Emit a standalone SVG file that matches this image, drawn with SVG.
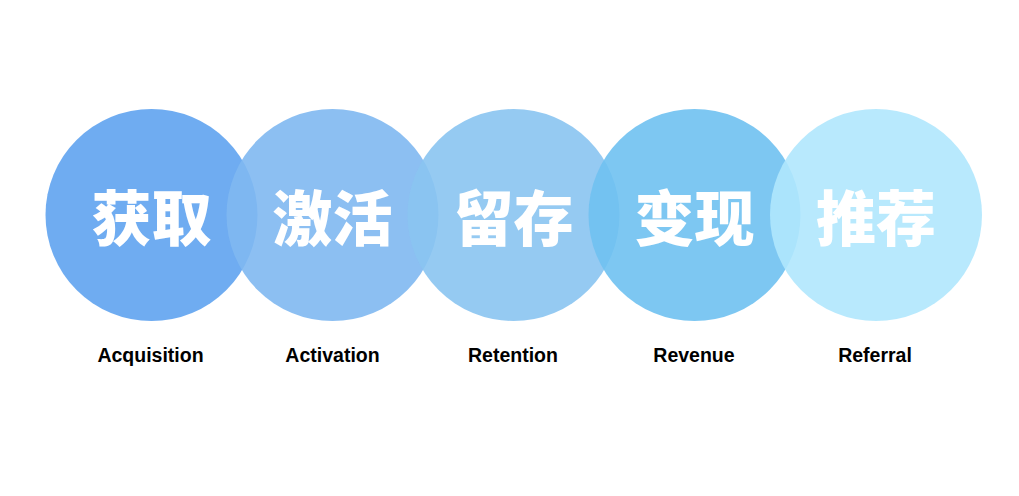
<svg xmlns="http://www.w3.org/2000/svg" width="1019" height="496" viewBox="0 0 1019 496">
<style>
.c{opacity:0.9}
.t{font-family:"Noto Sans CJK SC","Noto Sans",sans-serif;font-weight:900;font-size:60px;fill:#ffffff;text-anchor:middle}
.l{font-family:"Liberation Sans",Arial,sans-serif;font-weight:bold;font-size:19.5px;fill:#000000;text-anchor:middle}
</style>
<rect width="1019" height="496" fill="#ffffff"/>
<g id="node-acquisition">
<circle class="c" cx="151.5" cy="215" r="106" fill="#5fa3ef"/>
<text class="t" x="151.5" y="241">获取</text>
<text class="l" x="150.5" y="362">Acquisition</text>
</g>
<g id="node-activation">
<circle class="c" cx="332.5" cy="215" r="106" fill="#7fb8f1"/>
<text class="t" x="332.5" y="241">激活</text>
<text class="l" x="332.5" y="362">Activation</text>
</g>
<g id="node-retention">
<circle class="c" cx="513.5" cy="215" r="106" fill="#89c4f1"/>
<text class="t" x="513.5" y="241">留存</text>
<text class="l" x="513" y="362">Retention</text>
</g>
<g id="node-revenue">
<circle class="c" cx="694.5" cy="215" r="106" fill="#6fc1f1"/>
<text class="t" x="694.5" y="241">变现</text>
<text class="l" x="694" y="362">Revenue</text>
</g>
<g id="node-referral">
<circle class="c" cx="876" cy="215" r="106" fill="#b0e7fd"/>
<text class="t" x="876" y="241">推荐</text>
<text class="l" x="875" y="362">Referral</text>
</g>
<g id="connectors"/>
</svg>
